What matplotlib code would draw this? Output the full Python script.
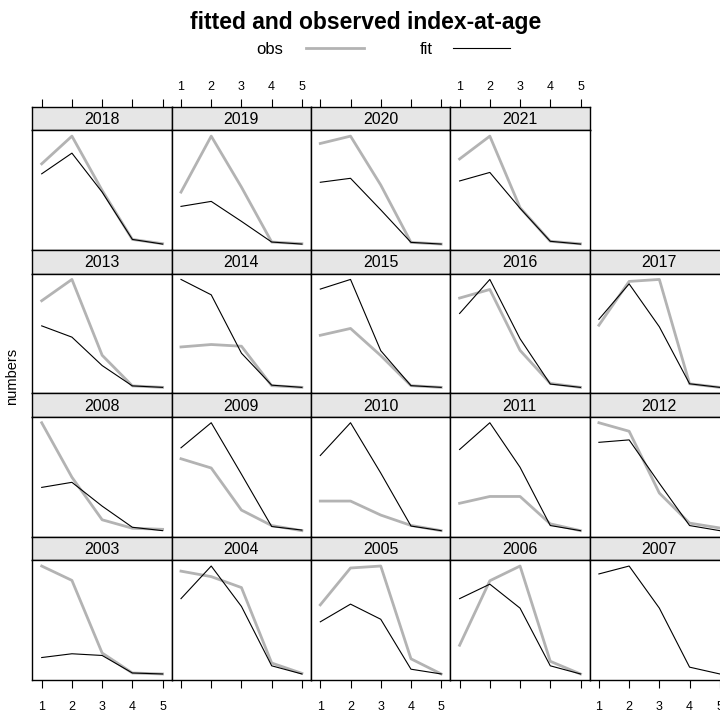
import matplotlib.pyplot as plt

plt.rcParams['font.family'] = ['Liberation Sans', 'DejaVu Sans']

# ages on the x axis
ages = [1, 2, 3, 4, 5]

# panel order, top row first (lattice layout 5 x 4)
panel_rows = [
    [2018, 2019, 2020, 2021],
    [2013, 2014, 2015, 2016, 2017],
    [2008, 2009, 2010, 2011, 2012],
    [2003, 2004, 2005, 2006, 2007],
]

# observed index-at-age (relative numbers, free y scale per panel)
obs_index = {
    2018: [72.8, 96.1, 50.4, 9.2, 5.6],
    2019: [49.0, 96.1, 53.2, 7.0, 5.6],
    2020: [89.1, 95.2, 54.6, 7.0, 5.6],
    2021: [76.0, 95.0, 35.5, 7.5, 5.4],
    2013: [75.7, 93.1, 31.2, 6.2, 5.0],
    2014: [38.2, 40.2, 38.8, 6.5, 5.1],
    2015: [47.6, 53.2, 31.0, 6.4, 5.0],
    2016: [78.2, 85.2, 35.5, 8.5, 5.3],
    2017: [55.8, 91.4, 93.0, 8.2, 5.3],
    2008: [93.8, 48.7, 13.5, 6.5, 5.6],
    2009: [64.2, 56.6, 22.0, 9.3, 5.1],
    2010: [29.5, 29.5, 18.0, 9.5, 5.2],
    2011: [27.6, 33.2, 33.2, 10.7, 5.1],
    2012: [93.8, 86.8, 36.0, 11.3, 7.3],
    2003: [93.5, 81.7, 22.0, 5.6, 4.8],
    2004: [89.6, 85.1, 76.1, 14.1, 5.6],
    2005: [61.7, 91.9, 93.5, 17.5, 5.1],
    2006: [28.7, 81.7, 93.8, 15.5, 5.1],
    2007: None,
}

# fitted index-at-age
fit_index = {
    2018: [64.4, 81.8, 49.0, 9.2, 5.3],
    2019: [37.0, 41.2, 24.4, 7.0, 5.3],
    2020: [56.9, 60.2, 34.0, 7.0, 5.6],
    2021: [57.7, 64.8, 35.0, 7.5, 5.2],
    2013: [55.2, 46.0, 22.8, 6.2, 5.0],
    2014: [93.5, 80.9, 33.1, 6.9, 5.1],
    2015: [85.4, 93.3, 35.0, 6.4, 5.0],
    2016: [65.6, 93.4, 45.0, 8.0, 5.3],
    2017: [60.6, 89.4, 54.5, 8.2, 5.3],
    2008: [40.3, 44.5, 24.8, 7.3, 4.5],
    2009: [73.2, 93.8, 51.5, 8.5, 5.6],
    2010: [66.9, 93.8, 52.5, 9.0, 5.2],
    2011: [71.8, 93.8, 57.2, 9.3, 5.1],
    2012: [77.7, 79.7, 44.0, 9.3, 5.1],
    2003: [18.3, 21.4, 20.0, 5.6, 4.8],
    2004: [67.0, 93.8, 60.6, 11.8, 5.1],
    2005: [47.8, 62.3, 49.9, 9.0, 5.1],
    2006: [67.0, 78.9, 59.2, 11.8, 5.1],
    2007: [87.3, 93.8, 59.2, 10.7, 5.1],
}

W, H = 720, 718
fig = plt.figure(figsize=(W / 100, H / 100), dpi=100)


def box(x, y, w, h):
    # pixel box (from top-left) -> figure fraction
    return [x / W, 1 - (y + h) / H, w / W, h / H]


left, top = 32.3, 106.7
cw, rh, sh = 139.3, 143.3, 23.5
xlim = (1 - 9.4 / 30.25, 5 + 9.0 / 30.25)
nrows = len(panel_rows)

for r, row in enumerate(panel_rows):
    for c, yr in enumerate(row):
        x = left + c * cw
        ys = top + r * rh

        # strip
        sax = fig.add_axes(box(x, ys, cw, sh))
        sax.set_facecolor('#e6e6e6')
        sax.set_xlim(xlim)
        sax.set_yticks([])
        sax.text(0.5, 0.45, str(yr), transform=sax.transAxes,
                 ha='center', va='center', fontsize=11.5)
        for sp in sax.spines.values():
            sp.set_linewidth(1.0)
        if r == 0:
            sax.xaxis.tick_top()
            sax.set_xticks(ages)
            sax.tick_params(axis='x', length=6, width=0.8, pad=4,
                            labelsize=9, labeltop=(c % 2 == 1))
        else:
            sax.set_xticks([])

        # panel
        ax = fig.add_axes(box(x, ys + sh, cw, rh - sh))
        o = obs_index[yr]
        f = fit_index[yr]
        vals = list(f) + (list(o) if o is not None else [])
        if o is not None:
            ax.plot(ages, o, color='#b3b3b3', lw=2.0)
        ax.plot(ages, f, color='black', lw=0.8)
        lo, hi = min(vals), max(vals)
        pad = 0.055 * (hi - lo)
        ax.set_ylim(lo - pad, hi + pad)
        ax.set_xlim(xlim)
        ax.set_yticks([])
        for sp in ax.spines.values():
            sp.set_linewidth(1.0)
        if r == nrows - 1:
            ax.set_xticks(ages)
            ax.tick_params(axis='x', length=6, width=0.8, pad=9,
                           labelsize=9, labelbottom=(c % 2 == 0))
        else:
            ax.set_xticks([])

# title and key
fig.text(366 / W, 1 - 22 / H, 'fitted and observed index-at-age',
         ha='center', va='center', fontsize=16.5, fontweight='bold')
fig.text(283 / W, 1 - 49 / H, 'obs', ha='right', va='center', fontsize=12)
fig.lines.append(plt.Line2D([306 / W, 364 / W], [1 - 48 / H, 1 - 48 / H],
                            transform=fig.transFigure, color='#b3b3b3', lw=2.0))
fig.text(433 / W, 1 - 49 / H, 'fit', ha='right', va='center', fontsize=12)
fig.lines.append(plt.Line2D([453 / W, 510 / W], [1 - 48 / H, 1 - 48 / H],
                            transform=fig.transFigure, color='black', lw=0.8))

fig.text(12 / W, 1 - 376 / H, 'numbers', rotation=90,
         ha='center', va='center', fontsize=10.5)

fig.savefig('out.png', dpi=100)
